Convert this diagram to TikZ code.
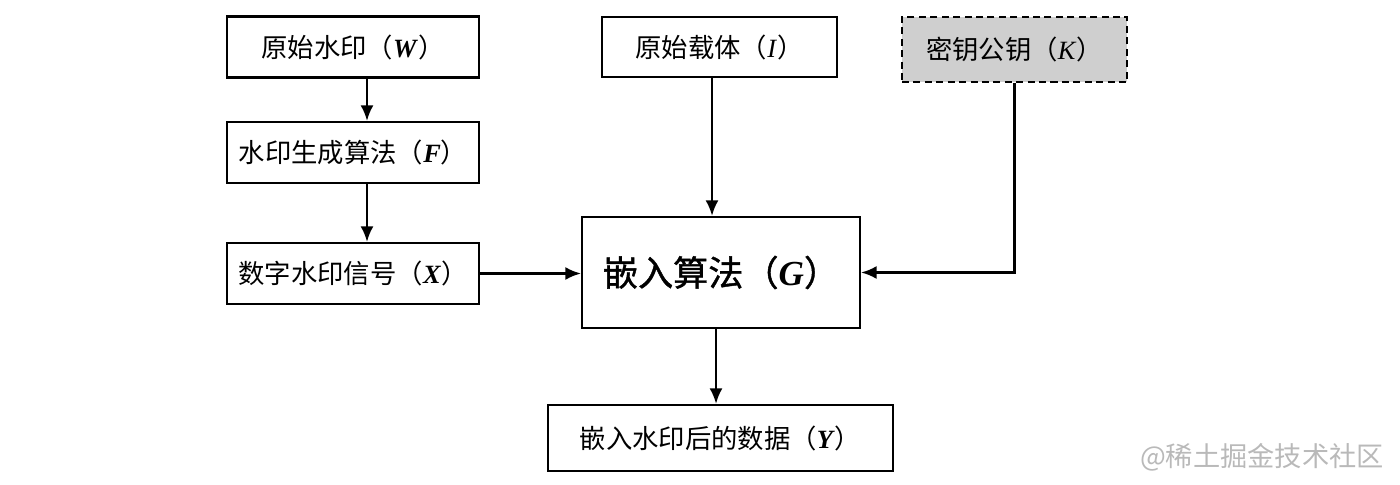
\documentclass[tikz,border=0pt]{standalone}
\usepackage{fontspec}
\setmainfont{Liberation Serif}
\newfontfamily\cjk{Noto Sans CJK SC}
\newfontfamily\cjkheavy[FakeBold=1.2]{Noto Sans CJK SC}
\usepackage{tikz}
\usetikzlibrary{calc,arrows.meta}

\newcommand{\wmlabel}[2]{{\cjk #1（}\textbf{\textit{#2}}{\cjk ）}}

\tikzset{
	box/.style={draw,line width=1.3pt,fill=white,inner sep=0pt,
		font=\fontsize{15}{18}\selectfont},
	keybox/.style={box,dashed,dash pattern=on 4pt off 2.5pt,line width=1.6pt,fill=gray!38},
	flow/.style={->,line width=1.3pt}
}

\begin{document}
\begin{tikzpicture}[x=0.02cm,y=0.02cm,>={Latex[length=3.1mm,width=2.6mm]}]
			\useasboundingbox (0,0) rectangle (1400,484);
			
			\node[box,minimum width=5.04cm,minimum height=1.22cm] (W) at (353,437) {\wmlabel{原始水印}{W}};
			\node[box,minimum width=5.04cm,minimum height=1.22cm] (F) at (353,331.5) {\wmlabel{水印生成算法}{F}};
			\node[box,minimum width=5.04cm,minimum height=1.22cm] (X) at (353,210.5) {\wmlabel{数字水印信号}{X}};
			\node[box,minimum width=4.7cm,minimum height=1.2cm] (I) at (719.5,437) {{\cjk 原始载体（}\textit{I}{\cjk ）}};
			\node[keybox,minimum width=4.5cm,minimum height=1.3cm] (K) at (1014.5,434.5) {{\cjk 密钥公钥（}\textit{K}{\cjk ）}};
			\node[box,minimum width=5.56cm,minimum height=2.22cm,font=\fontsize{20}{24}\selectfont] (G) at (721,211.5) {{\cjkheavy 嵌入算法（}\textbf{\textit{G}}{\cjkheavy ）}};
			\node[box,minimum width=6.9cm,minimum height=1.32cm] (Y) at (720.5,46) {\wmlabel{嵌入水印后的数据}{Y}};
			
			\draw[flow] ([xshift=0.28cm]W.south) -- ([xshift=0.28cm]F.north);
			\draw[flow] ([xshift=0.28cm]F.south) -- ([xshift=0.28cm]X.north);
			\draw[flow] (X.east) -- (X.east -| G.west);
			\draw[flow] ([xshift=-0.15cm]I.south) -- ([xshift=-0.15cm]I.south |- G.north);
			\draw[flow] (K.south) -- (K.south |- G.east) -- (G.east);
			\draw[flow] ([xshift=-0.1cm]G.south) -- ([xshift=-0.1cm]G.south |- Y.north);
			
			\node[text=gray!55,font=\cjk\fontsize{15.5}{18}\selectfont] (mark) at (1262,27) {@稀土掘金技术社区};
		\end{tikzpicture}
\end{document}
